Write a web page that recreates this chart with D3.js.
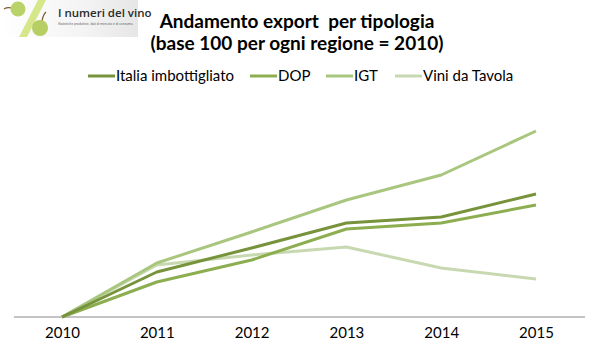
<!DOCTYPE html>
<html><head><meta charset="utf-8">
<script src="https://cdn.jsdelivr.net/npm/d3@7"></script>
<style>html,body{margin:0;padding:0;background:#fff;}svg{display:block;}</style>
</head><body>
<svg id="c" width="596" height="351"></svg>
<script>
const years = ["2010","2011","2012","2013","2014","2015"];
const seriesNames = ["Italia imbottigliato","DOP","IGT","Vini da Tavola"];
const italia = [100, 122.5, 134.5, 147, 150, 161.5];
const dop = [100, 117.5, 128.5, 144, 147, 156];
const igt = [100, 127, 142.5, 158.5, 171, 193];
const tavola = [100, 126, 131, 135, 124.5, 119];
const colors = ["#77933c","#8cae50","#a9c67f","#c8d9b1"];
const titleLines = ["Andamento export  per tipologia","(base 100 per ogni regione = 2010)"];

const values = [italia, dop, igt, tavola];
const svg = d3.select("#c");
const font = "Lato, 'Liberation Sans', sans-serif";

// logo
const logo = svg.append("g");
const grad = svg.append("defs").append("linearGradient").attr("id","lg").attr("x1",0).attr("x2",1).attr("y1",0).attr("y2",0);
grad.append("stop").attr("offset","0%").attr("stop-color","#ffffff");
grad.append("stop").attr("offset","60%").attr("stop-color","#f4f4f4");
grad.append("stop").attr("offset","100%").attr("stop-color","#e6e6e6");
logo.append("rect").attr("x",0).attr("y",0).attr("width",138).attr("height",37).attr("fill","url(#lg)");
logo.append("path").attr("d","M38,0 L46,0 L27,37 L19,37 Z").attr("fill","#d6e68a");
logo.append("path").attr("d","M12,8 Q7,7 4,9").attr("stroke","#7a5a2a").attr("stroke-width",1.2).attr("fill","none");
logo.append("circle").attr("cx",18).attr("cy",9).attr("r",7.5).attr("fill","#b9d36a");
logo.append("path").attr("d","M42,21 Q43,15 46,12").attr("stroke","#7a5a2a").attr("stroke-width",1.2).attr("fill","none");
logo.append("circle").attr("cx",40).attr("cy",28).attr("r",8).attr("fill","#b5cf64");
logo.append("text").attr("x",58).attr("y",17).attr("font-family","'Open Sans', sans-serif").attr("font-weight",600).attr("font-size",11.5).attr("fill","#2a2a2a").text("I numeri del vino");
logo.append("text").attr("x",58).attr("y",25).attr("font-family","sans-serif").attr("font-size",3.3).attr("fill","#666").text("Statistiche produttive, dati di mercato e di consumo.");

// title
const tl = svg.append("g");
titleLines.forEach((t,i)=>{
  tl.append("text").attr("x",297).attr("y",i===0?28:50).attr("text-anchor","middle")
    .style("white-space","pre")
    .attr("font-family",font).attr("font-weight","bold").attr("font-size",19).attr("fill","#000").text(t);
});

// scales
const x = d3.scalePoint().domain(years).range([62,536]);
const y = d3.scaleLinear().domain([100,200]).range([317,117]);

// axis
const ax = svg.append("g").attr("transform","translate(0,317)")
  .call(d3.axisBottom(x).tickSize(0).tickPadding(10));
ax.select(".domain").remove();
ax.selectAll("text").attr("font-family",font).attr("font-size",15).attr("fill","#000");
svg.append("line").attr("x1",14).attr("x2",585).attr("y1",317).attr("y2",317).attr("stroke","#888").attr("stroke-width",1);

// lines (draw light ones first)
const line = d3.line().x((d,i)=>x(years[i])).y(d=>y(d));
[3,2,1,0].forEach(k=>{
  svg.append("path").attr("d",line(values[k])).attr("fill","none")
    .attr("stroke",colors[k]).attr("stroke-width",3).attr("stroke-linejoin","round");
});

// legend
const legX = [88,250,326,395];
const lg = svg.append("g");
seriesNames.forEach((n,i)=>{
  lg.append("line").attr("x1",legX[i]).attr("x2",legX[i]+27).attr("y1",76).attr("y2",76)
    .attr("stroke",colors[i]).attr("stroke-width",3);
  lg.append("text").attr("x",legX[i]+28).attr("y",81).attr("font-family",font).attr("font-size",15).attr("fill","#000").text(n);
});
</script>
</body></html>
